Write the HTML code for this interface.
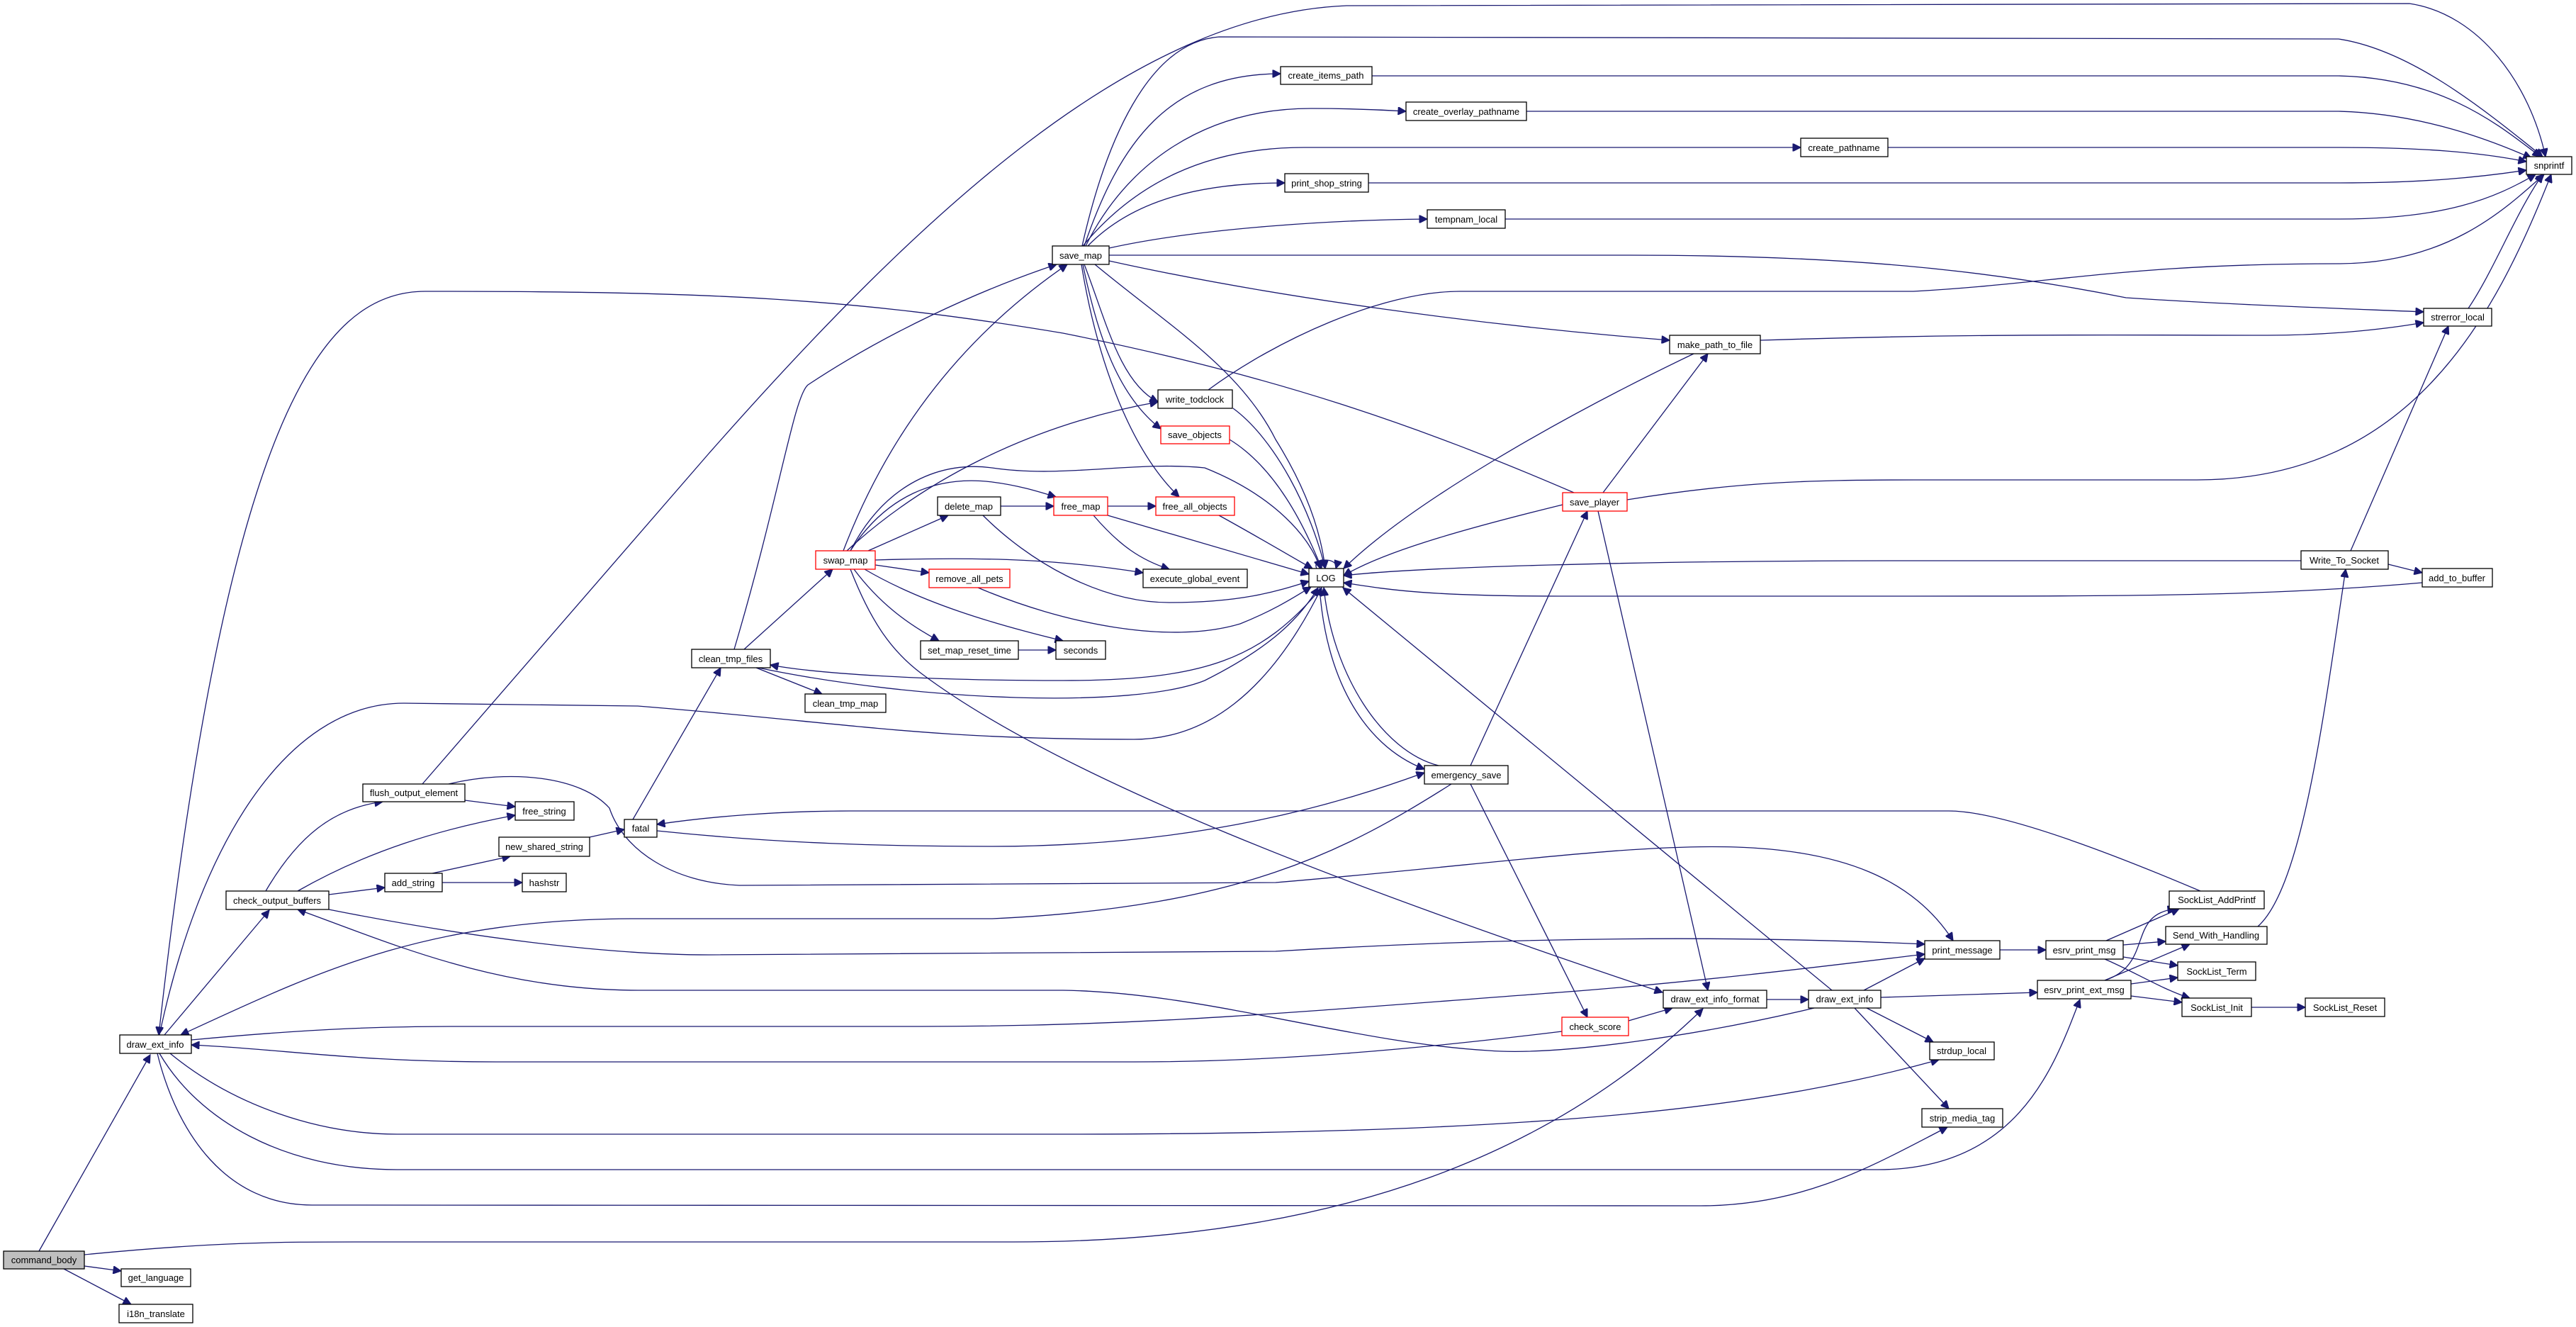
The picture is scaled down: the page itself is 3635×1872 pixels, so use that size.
<!DOCTYPE html>
<html><head><meta charset="utf-8"><style>
html,body{margin:0;padding:0;background:#fff;}
svg{display:block;}
text{font-family:"Liberation Sans",Arial,sans-serif;font-size:13px;fill:#000;}
.e{fill:none;stroke:#191970;stroke-width:1.3;}
.n{fill:#fff;stroke:#000;stroke-width:1.3;}
.r{fill:#fff;stroke:#ff0000;stroke-width:1.3;}
</style></head><body>
<svg width="3635" height="1872" viewBox="0 0 3635 1872" xmlns="http://www.w3.org/2000/svg">
<defs><marker id="a" viewBox="0 0 10 10" refX="10" refY="5" markerWidth="15" markerHeight="11" markerUnits="userSpaceOnUse" orient="auto"><path d="M0,0 L10,5 L0,10 z" fill="#191970" stroke="#191970"/></marker></defs>
<g class="e" marker-end="url(#a)">
<path d="M55,1765 L212,1488"/>
<path d="M119,1786 L171,1793"/>
<path d="M90,1790 L185,1840"/>
<path d="M119,1770 C300,1752 400,1752 500,1752 L1430,1752 C1900,1752 2200,1620 2403,1423"/>
<path d="M232,1460 L380,1284"/>
<path d="M464,1283 C650,1320 850,1347 1000,1347 L1800,1342 C2200,1318 2500,1322 2716,1332"/>
<path d="M2560,1422 C2400,1460 2200,1490 2100,1482 C1900,1470 1700,1400 1500,1397 L900,1397 C700,1397 550,1330 420,1283"/>
<path d="M270,1467 C450,1450 550,1448 650,1448 L1300,1448 C1600,1448 1800,1430 2200,1400 C2400,1385 2600,1360 2716,1346"/>
<path d="M2204,1455 C2000,1480 1800,1498 1600,1498 L700,1498 C500,1498 400,1480 270,1474"/>
<path d="M240,1486 C330,1560 450,1600 560,1600 L1500,1600 C2200,1600 2500,1560 2736,1495"/>
<path d="M225,1486 C280,1580 400,1650 560,1650 L2650,1650 C2850,1650 2900,1500 2935,1410"/>
<path d="M222,1486 C250,1600 320,1700 440,1700 L2400,1701 C2550,1701 2650,1640 2748,1590"/>
<path d="M225,1460 C280,1200 400,992 570,992 L900,996 C1200,1020 1300,1043 1600,1043 C1700,1043 1790,980 1865,829"/>
<path d="M2048,1106 C1900,1200 1750,1280 1400,1296 L900,1296 C600,1296 450,1370 255,1460"/>
<path d="M2221,695 C2000,600 1800,530 1500,470 C1200,420 1000,411 600,411 C450,411 320,600 224,1460"/>
<path d="M596,1106 L1000,640 C1300,300 1600,20 1900,8 L3400,5 C3500,20 3570,120 3592,221"/>
<path d="M1527,347 C1560,200 1620,60 1720,52 L3300,55 C3400,70 3500,150 3588,221"/>
<path d="M1530,347 C1580,200 1650,104 1807,104"/>
<path d="M1532,347 C1590,230 1700,153 1850,153 C1900,153 1950,155 1984,157"/>
<path d="M1528,347 C1600,260 1700,208 1840,208 L2541,208"/>
<path d="M1535,347 C1600,280 1700,258 1813,258"/>
<path d="M1565,350 C1700,320 1900,310 2014,309"/>
<path d="M1565,360 L2300,360 C2600,360 2800,380 3000,420 C3150,430 3300,435 3420,440"/>
<path d="M1565,368 C1800,420 2100,460 2356,480"/>
<path d="M1545,373 C1650,460 1750,520 1800,620 C1850,700 1865,760 1870,802"/>
<path d="M1530,373 C1560,450 1580,540 1634,567" />
<path d="M1528,373 C1550,480 1580,560 1638,605"/>
<path d="M1526,373 C1550,520 1600,640 1664,701"/>
<path d="M1190,777 C1250,620 1350,480 1506,373"/>
<path d="M1036,916 C1100,700 1120,560 1140,543 C1250,470 1380,410 1491,373"/>
<path d="M1195,777 C1300,680 1450,600 1634,567"/>
<path d="M1200,777 C1250,680 1330,650 1400,660 C1500,675 1600,650 1700,660 C1800,700 1850,760 1863,802"/>
<path d="M1200,777 C1250,700 1320,670 1400,680 C1440,685 1470,695 1490,701"/>
<path d="M1225,777 L1338,727"/>
<path d="M1235,790 C1400,785 1500,790 1613,808"/>
<path d="M1235,797 L1311,808"/>
<path d="M1220,803 C1300,850 1400,880 1500,904"/>
<path d="M1205,803 C1240,850 1280,880 1325,904"/>
<path d="M1200,803 C1230,880 1260,920 1300,950 C1500,1100 1900,1250 2346,1400"/>
<path d="M1412,714 L1487,714"/>
<path d="M1387,727 C1450,790 1550,850 1650,850 C1750,850 1800,835 1847,820"/>
<path d="M1563,714 L1631,714"/>
<path d="M1543,727 C1580,770 1610,790 1650,803"/>
<path d="M1563,727 L1847,810"/>
<path d="M1720,727 C1780,760 1830,790 1852,802"/>
<path d="M1740,576 C1800,620 1850,720 1870,802"/>
<path d="M1705,550 C1800,480 1950,411 2060,411 L2700,411 C2900,400 3000,372 3300,372 C3450,372 3530,300 3590,246"/>
<path d="M1735,620 C1800,660 1840,740 1865,802"/>
<path d="M1380,829 C1500,880 1650,910 1750,880 C1800,860 1830,840 1850,828"/>
<path d="M1437,917 L1490,917"/>
<path d="M1050,916 L1175,803"/>
<path d="M1067,942 L1160,979"/>
<path d="M1070,942 C1300,990 1600,1000 1700,960 C1780,920 1830,880 1860,829"/>
<path d="M1865,829 C1780,930 1700,960 1500,960 C1300,960 1150,950 1087,938"/>
<path d="M893,1156 L1017,942"/>
<path d="M927,1172 C1100,1190 1250,1194 1400,1194 C1700,1194 1900,1130 2010,1090"/>
<path d="M3105,1257 C2900,1170 2800,1144 2750,1144 L1200,1144 C1100,1144 1000,1152 927,1163"/>
<path d="M656,1129 L727,1138"/>
<path d="M633,1106 C720,1085 820,1095 860,1140 C880,1200 950,1245 1043,1249 L1800,1245 C2100,1220 2300,1190 2450,1195 C2600,1200 2700,1240 2756,1327"/>
<path d="M375,1257 C420,1180 470,1140 540,1131"/>
<path d="M420,1257 C520,1200 620,1170 727,1150"/>
<path d="M464,1262 L543,1252"/>
<path d="M610,1232 L720,1208"/>
<path d="M624,1245 L737,1245"/>
<path d="M832,1181 L881,1170"/>
<path d="M1862,828 C1870,950 1920,1050 2010,1085"/>
<path d="M2030,1080 C1950,1060 1880,950 1868,829"/>
<path d="M2075,1080 L2240,721"/>
<path d="M2075,1106 L2240,1435"/>
<path d="M2298,1440 L2360,1422"/>
<path d="M2493,1410 L2552,1410"/>
<path d="M2630,1397 L2716,1352"/>
<path d="M2654,1407 L2875,1400"/>
<path d="M2634,1422 L2728,1470"/>
<path d="M2617,1422 L2750,1564"/>
<path d="M2585,1397 L1895,829"/>
<path d="M2205,712 C2050,750 1950,780 1896,812"/>
<path d="M2262,695 L2410,499"/>
<path d="M2296,705 C2450,680 2550,677 2700,677 L3100,677 C3400,677 3520,450 3600,246"/>
<path d="M2255,721 L2410,1397"/>
<path d="M2390,499 C2200,590 1990,710 1896,802"/>
<path d="M2484,480 C2800,470 3000,473 3200,473 C3300,473 3380,462 3420,455"/>
<path d="M3483,435 C3520,380 3550,300 3588,246"/>
<path d="M3317,777 L3455,460"/>
<path d="M3370,796 L3418,808"/>
<path d="M3247,791 L2700,791 C2300,791 2000,800 1896,812"/>
<path d="M3418,822 C3200,841 3000,841 2700,841 L2200,841 C2000,841 1950,830 1896,822"/>
<path d="M3186,1307 C3250,1250 3280,1000 3310,803"/>
<path d="M1936,107 L3300,107 C3450,110 3530,180 3585,221"/>
<path d="M2154,157 L3300,157 C3420,160 3520,200 3572,223"/>
<path d="M2664,208 L3300,208 C3420,208 3500,215 3565,228"/>
<path d="M1931,258 L3300,258 C3420,258 3500,250 3565,240"/>
<path d="M2124,309 L3300,309 C3450,309 3520,280 3578,246"/>
<path d="M2822,1340 L2887,1340"/>
<path d="M2972,1327 L3075,1282"/>
<path d="M2996,1333 L3056,1328"/>
<path d="M2996,1350 L3073,1362"/>
<path d="M2970,1353 C3010,1370 3050,1395 3090,1408"/>
<path d="M2970,1383 C3040,1360 3000,1290 3070,1282"/>
<path d="M2970,1383 L3090,1332"/>
<path d="M3007,1388 L3073,1379"/>
<path d="M3007,1405 L3079,1414"/>
<path d="M3177,1421 L3253,1421"/>
</g>
<path class="e" d="M1858,802 C1850,786 1890,786 1885,802" marker-end="url(#a)"/>
<g>
<rect x="5" y="1765" width="114" height="25" fill="#bfbfbf" stroke="#000" stroke-width="1.3"/>
<rect class="n" x="171" y="1790" width="98" height="25"/>
<rect class="n" x="168" y="1840" width="104" height="26"/>
<rect class="n" x="169" y="1460" width="101" height="26"/>
<rect class="n" x="319" y="1257" width="145" height="26"/>
<rect class="n" x="512" y="1106" width="144" height="25"/>
<rect class="n" x="727" y="1131" width="83" height="26"/>
<rect class="n" x="881" y="1156" width="46" height="25"/>
<rect class="n" x="704" y="1181" width="128" height="27"/>
<rect class="n" x="543" y="1232" width="81" height="26"/>
<rect class="n" x="737" y="1232" width="62" height="26"/>
<rect class="n" x="976" y="916" width="111" height="26"/>
<rect class="n" x="1136" y="979" width="114" height="26"/>
<rect class="r" x="1151" y="777" width="84" height="26"/>
<rect class="n" x="1323" y="701" width="89" height="26"/>
<rect class="r" x="1487" y="701" width="76" height="26"/>
<rect class="r" x="1631" y="701" width="111" height="26"/>
<rect class="r" x="1311" y="803" width="114" height="26"/>
<rect class="n" x="1613" y="803" width="147" height="26"/>
<rect class="n" x="1299" y="904" width="138" height="26"/>
<rect class="n" x="1490" y="904" width="70" height="26"/>
<rect class="n" x="1485" y="347" width="80" height="26"/>
<rect class="n" x="1634" y="550" width="105" height="26"/>
<rect class="r" x="1638" y="601" width="97" height="25"/>
<rect class="n" x="1847" y="802" width="49" height="26"/>
<rect class="n" x="1807" y="94" width="129" height="25"/>
<rect class="n" x="1984" y="144" width="170" height="26"/>
<rect class="n" x="2541" y="195" width="123" height="26"/>
<rect class="n" x="1813" y="245" width="118" height="26"/>
<rect class="n" x="2014" y="296" width="110" height="26"/>
<rect class="n" x="2356" y="473" width="128" height="26"/>
<rect class="r" x="2205" y="695" width="91" height="26"/>
<rect class="n" x="3565" y="221" width="64" height="25"/>
<rect class="n" x="3420" y="435" width="96" height="25"/>
<rect class="n" x="3247" y="777" width="123" height="26"/>
<rect class="n" x="3418" y="802" width="99" height="26"/>
<rect class="n" x="2010" y="1080" width="118" height="26"/>
<rect class="r" x="2204" y="1435" width="94" height="26"/>
<rect class="n" x="2347" y="1397" width="146" height="25"/>
<rect class="n" x="2552" y="1397" width="102" height="25"/>
<rect class="n" x="2716" y="1327" width="106" height="26"/>
<rect class="n" x="2887" y="1327" width="109" height="26"/>
<rect class="n" x="2875" y="1383" width="132" height="26"/>
<rect class="n" x="3061" y="1257" width="134" height="25"/>
<rect class="n" x="3056" y="1307" width="143" height="25"/>
<rect class="n" x="3073" y="1357" width="110" height="26"/>
<rect class="n" x="3079" y="1408" width="98" height="26"/>
<rect class="n" x="3253" y="1408" width="112" height="26"/>
<rect class="n" x="2723" y="1470" width="91" height="25"/>
<rect class="n" x="2712" y="1564" width="114" height="26"/>
</g>
<g text-anchor="middle">
<text x="62" y="1782">command_body</text>
<text x="220" y="1807">get_language</text>
<text x="220" y="1858">i18n_translate</text>
<text x="219" y="1478">draw_ext_info</text>
<text x="391" y="1275">check_output_buffers</text>
<text x="584" y="1123">flush_output_element</text>
<text x="768" y="1149">free_string</text>
<text x="904" y="1173">fatal</text>
<text x="768" y="1199">new_shared_string</text>
<text x="583" y="1250">add_string</text>
<text x="768" y="1250">hashstr</text>
<text x="1031" y="934">clean_tmp_files</text>
<text x="1193" y="997">clean_tmp_map</text>
<text x="1193" y="795">swap_map</text>
<text x="1367" y="719">delete_map</text>
<text x="1525" y="719">free_map</text>
<text x="1686" y="719">free_all_objects</text>
<text x="1368" y="821">remove_all_pets</text>
<text x="1686" y="821">execute_global_event</text>
<text x="1368" y="922">set_map_reset_time</text>
<text x="1525" y="922">seconds</text>
<text x="1525" y="365">save_map</text>
<text x="1686" y="568">write_todclock</text>
<text x="1686" y="618">save_objects</text>
<text x="1871" y="820">LOG</text>
<text x="1871" y="111">create_items_path</text>
<text x="2069" y="162">create_overlay_pathname</text>
<text x="2602" y="213">create_pathname</text>
<text x="1872" y="263">print_shop_string</text>
<text x="2069" y="314">tempnam_local</text>
<text x="2420" y="491">make_path_to_file</text>
<text x="2250" y="713">save_player</text>
<text x="3597" y="238">snprintf</text>
<text x="3468" y="452">strerror_local</text>
<text x="3308" y="795">Write_To_Socket</text>
<text x="3467" y="820">add_to_buffer</text>
<text x="2069" y="1098">emergency_save</text>
<text x="2251" y="1453">check_score</text>
<text x="2420" y="1414">draw_ext_info_format</text>
<text x="2603" y="1414">draw_ext_info</text>
<text x="2769" y="1345">print_message</text>
<text x="2941" y="1345">esrv_print_msg</text>
<text x="2941" y="1401">esrv_print_ext_msg</text>
<text x="3128" y="1274">SockList_AddPrintf</text>
<text x="3127" y="1324">Send_With_Handling</text>
<text x="3128" y="1375">SockList_Term</text>
<text x="3128" y="1426">SockList_Init</text>
<text x="3309" y="1426">SockList_Reset</text>
<text x="2768" y="1487">strdup_local</text>
<text x="2769" y="1582">strip_media_tag</text>
</g>
</svg>
</body></html>
